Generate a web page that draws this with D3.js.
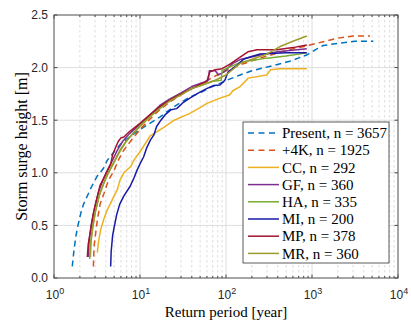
<!DOCTYPE html>
<html><head><meta charset="utf-8">
<script src="https://cdn.jsdelivr.net/npm/d3@7"></script>
<style>html,body{margin:0;padding:0;background:#fff;overflow:hidden}</style>
</head><body>
<svg id="c" width="411" height="322"></svg>
<script>
// ---------- data ----------
const seriesNames = ["Present","+4K","CC","GF","HA","MI","MP","MR"];
const seriesCounts = [3657,1925,292,360,335,200,378,360];
const seriesColors = ["#0072BD","#D95319","#EDB120","#7E2F8E","#77AC30","#1a1aa8","#A2142F","#9c9c2c"];
const seriesDashed = [true,true,false,false,false,false,false,false];

const presentT = [1.63,1.7,1.79,1.9,2.04,2.2,2.44,2.7,3.19,3.75,4.17,5,5.9,7.5,10,13,17,24,30,38,50,65,85,110,146,200,355,550,870,1100,1350,2000,3160,5170];
const presentH = [0.11,0.25,0.39,0.5,0.61,0.7,0.78,0.86,0.97,1.04,1.12,1.2,1.27,1.34,1.41,1.47,1.53,1.62,1.67,1.72,1.76,1.81,1.85,1.89,1.93,1.97,2.02,2.06,2.12,2.17,2.21,2.23,2.25,2.25];

const plus4kT = [2.87,2.92,3.19,3.43,3.8,4.3,4.99,5.6,6.3,7.1,8.5,10.2,13,17,22,30,40,55,75,100,150,250,400,607,900,1350,2000,3020,4720];
const plus4kH = [0.11,0.3,0.55,0.7,0.8,0.93,1.02,1.12,1.2,1.26,1.34,1.42,1.51,1.6,1.67,1.74,1.8,1.86,1.92,1.97,2.03,2.09,2.14,2.18,2.21,2.246,2.28,2.3,2.3];

const ccT = [3.19,3.3,3.49,3.8,4.17,4.48,5,5.45,5.85,6.5,7.8,8.5,10,12,13.1,15,18.7,25,38,50,60,85,110,120,146,182,297,330,425,870];
const ccH = [0.24,0.35,0.46,0.56,0.65,0.7,0.78,0.84,0.93,1.0,1.06,1.12,1.2,1.3,1.35,1.38,1.43,1.5,1.565,1.62,1.66,1.71,1.74,1.78,1.82,1.9,1.93,1.98,1.99,1.99];

const gfT = [2.5,2.56,2.7,2.95,3.3,3.7,4.2,4.8,5.5,6.3,7.5,10,13,17,22,30,40,55,62,64,75,82,95,120,150,250,400,870];
const gfH = [0.2,0.35,0.5,0.66,0.82,0.93,1.03,1.12,1.22,1.3,1.37,1.46,1.55,1.64,1.7,1.76,1.82,1.86,1.88,1.97,1.97,1.93,1.96,2.04,2.08,2.12,2.15,2.18];

const haT = [2.6,2.65,2.8,3.0,3.35,3.8,4.3,5,5.8,6.8,8,10,13,17,22,30,40,55,70,88,90,100,146,300,500,870];
const haH = [0.18,0.32,0.48,0.62,0.78,0.9,1.0,1.1,1.2,1.29,1.36,1.45,1.54,1.62,1.69,1.75,1.8,1.84,1.87,1.88,1.97,1.99,2.05,2.09,2.11,2.14];

const miT = [4.56,4.62,4.8,5.0,5.35,5.8,6.5,7.65,8.5,9.3,10.2,11,12,13.2,14.5,15.6,17.5,19.5,23,26.7,32,38,48,59.6,72,85,97,106,133,160,190,250,500,870];
const miH = [0.11,0.25,0.4,0.48,0.6,0.7,0.78,0.87,0.95,1.03,1.1,1.15,1.24,1.31,1.36,1.44,1.5,1.55,1.6,1.61,1.67,1.71,1.76,1.8,1.83,1.835,1.88,1.96,2.02,2.08,2.1,2.13,2.14,2.14];

const mpT = [2.44,2.5,2.67,2.85,3.05,3.43,3.8,4.2,4.56,4.8,5.2,5.6,5.97,6.5,7.5,10,13,17,23,30,40,50,60,65,75,90,110,146,180,230,390,600,870];
const mpH = [0.2,0.32,0.46,0.6,0.71,0.88,0.95,1.02,1.08,1.17,1.24,1.3,1.33,1.34,1.39,1.47,1.55,1.63,1.7,1.75,1.8,1.84,1.87,1.96,1.98,1.99,2.03,2.1,2.15,2.17,2.17,2.19,2.215];

const mrT = [2.65,2.7,2.85,3.05,3.4,3.9,4.4,5.1,5.9,6.9,8.2,10,13,17,22,30,40,55,75,100,146,200,300,425,600,870];
const mrH = [0.2,0.35,0.5,0.64,0.8,0.93,1.02,1.12,1.22,1.3,1.37,1.44,1.53,1.61,1.68,1.74,1.8,1.84,1.88,1.93,2.04,2.08,2.13,2.2,2.25,2.3];

const seriesT = [presentT, plus4kT, ccT, gfT, haT, miT, mpT, mrT];
const seriesH = [presentH, plus4kH, ccH, gfH, haH, miH, mpH, mrH];

const xTicks = [1,10,100,1000,10000];
const xTickExp = ["0","1","2","3","4"];
const yTicks = [0,0.5,1,1.5,2,2.5];
const yTickLabels = ["0.0","0.5","1.0","1.5","2.0","2.5"];

// ---------- layout ----------
const L = 54, R = 398, T = 15, B = 278;
const svg = d3.select("#c");
const x = d3.scaleLog().domain([1,10000]).range([L,R]);
const y = d3.scaleLinear().domain([0,2.5]).range([B,T]);

// minor x values
const xMinor = [];
for (let e = 0; e < 4; e++) for (let k = 2; k <= 9; k++) xMinor.push(k*Math.pow(10,e));

const g = svg.append("g");
g.selectAll("line.mg").data(xMinor).enter().append("line")
  .attr("x1",d=>x(d)).attr("x2",d=>x(d)).attr("y1",T).attr("y2",B)
  .attr("stroke","#d4d4d4").attr("stroke-width",0.8).attr("stroke-dasharray","2.5,2.5");
g.selectAll("line.gx").data(xTicks.slice(1,-1)).enter().append("line")
  .attr("x1",d=>x(d)).attr("x2",d=>x(d)).attr("y1",T).attr("y2",B)
  .attr("stroke","#dedede").attr("stroke-width",1);
g.selectAll("line.gy").data(yTicks.slice(1,-1)).enter().append("line")
  .attr("x1",L).attr("x2",R).attr("y1",d=>y(d)).attr("y2",d=>y(d))
  .attr("stroke","#dedede").attr("stroke-width",1);

svg.append("clipPath").attr("id","clip").append("rect")
  .attr("x",L).attr("y",T).attr("width",R-L).attr("height",B-T);

const line = d3.line().x(d=>x(d[0])).y(d=>y(d[1]));
const lines = svg.append("g").attr("clip-path","url(#clip)");
seriesNames.forEach((n,i)=>{
  const pts = seriesT[i].map((t,j)=>[t, seriesH[i][j]]);
  lines.append("path").attr("d", line(pts)).attr("fill","none")
    .attr("stroke", seriesColors[i]).attr("stroke-width",1.5)
    .attr("stroke-dasharray", seriesDashed[i] ? "6,4" : null)
    .attr("stroke-linejoin","round");
});

const axc = "#4d4d4d";
const tk = svg.append("g").attr("stroke",axc).attr("stroke-width",1);
xTicks.forEach(v=>{
  tk.append("line").attr("x1",x(v)).attr("x2",x(v)).attr("y1",B).attr("y2",B-3.5);
  tk.append("line").attr("x1",x(v)).attr("x2",x(v)).attr("y1",T).attr("y2",T+3.5);
});
xMinor.forEach(v=>{
  tk.append("line").attr("x1",x(v)).attr("x2",x(v)).attr("y1",B).attr("y2",B-2);
  tk.append("line").attr("x1",x(v)).attr("x2",x(v)).attr("y1",T).attr("y2",T+2);
});
yTicks.forEach(v=>{
  tk.append("line").attr("x1",L).attr("x2",L+3.5).attr("y1",y(v)).attr("y2",y(v));
  tk.append("line").attr("x1",R).attr("x2",R-3.5).attr("y1",y(v)).attr("y2",y(v));
});
svg.append("rect").attr("x",L).attr("y",T).attr("width",R-L).attr("height",B-T)
  .attr("fill","none").attr("stroke",axc).attr("stroke-width",1);

const sans = "'Liberation Sans', Arial, sans-serif";
const serif = "'Liberation Serif', 'Times New Roman', serif";
yTicks.forEach((v,i)=>{
  svg.append("text").attr("x",L-6).attr("y",y(v)).attr("dy","0.36em")
    .attr("text-anchor","end").attr("font-family",sans).attr("font-size",12)
    .attr("fill","#262626").text(yTickLabels[i]);
});
xTicks.forEach((v,i)=>{
  const t = svg.append("text").attr("x",x(v)+1).attr("y",299)
    .attr("text-anchor","middle").attr("font-family",sans).attr("font-size",12)
    .attr("fill","#262626");
  t.append("tspan").text("10");
  t.append("tspan").attr("dy",-5).attr("font-size",9).text(xTickExp[i]);
});

svg.append("text").attr("transform","translate(21,"+((T+B)/2)+") rotate(-90)")
  .attr("text-anchor","middle").attr("dominant-baseline","central")
  .attr("font-family",serif).attr("font-size",16).attr("fill","#000")
  .text("Storm surge height [m]");
svg.append("text").attr("x",(L+R)/2).attr("y",317)
  .attr("text-anchor","middle").attr("font-family",serif).attr("font-size",15).attr("fill","#000")
  .text("Return period [year]");

const lgX = 243, lgY = 122, lgW = 146, lgH = 141, rowH = 17.2, row0 = 133;
const lg = svg.append("g");
lg.append("rect").attr("x",lgX).attr("y",lgY).attr("width",lgW).attr("height",lgH)
  .attr("fill","#fff").attr("stroke","#333").attr("stroke-width",0.8);
seriesNames.forEach((n,i)=>{
  const yy = row0 + i*rowH;
  lg.append("line").attr("x1",248).attr("x2",279).attr("y1",yy).attr("y2",yy)
    .attr("stroke",seriesColors[i]).attr("stroke-width",1.5)
    .attr("stroke-dasharray", seriesDashed[i] ? "6,4.5" : null);
  lg.append("text").attr("x",282).attr("y",yy).attr("dy","0.35em")
    .attr("font-family",serif).attr("font-size",15).attr("fill","#000")
    .text(n + ", n = " + seriesCounts[i]);
});
</script>
</body></html>
